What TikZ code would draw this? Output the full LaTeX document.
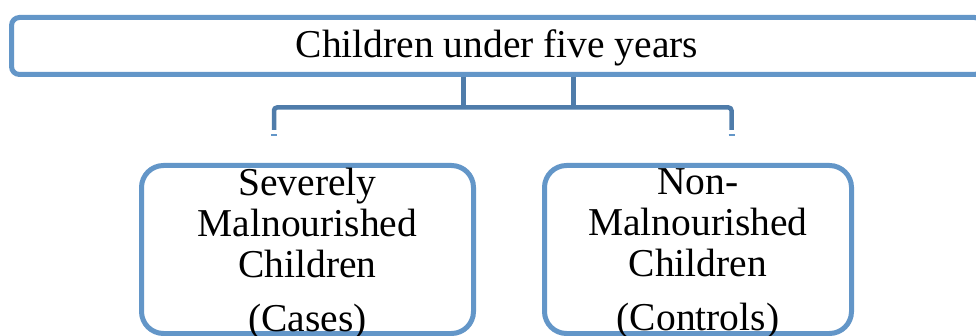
\documentclass[tikz,border=0pt]{standalone}
\usepackage{fontspec}
\setmainfont{Liberation Serif}
\usetikzlibrary{positioning, calc}
\definecolor{boxblue}{RGB}{99,150,200}
\definecolor{linkblue}{RGB}{79,124,170}

\begin{document}
\begin{tikzpicture}[x=1pt, y=-1pt,
    box/.style={draw=boxblue, line width=5pt, fill=white, inner sep=0pt},
    link/.style={draw=linkblue, line width=4.5pt, rounded corners=3pt},
    tick/.style={draw=boxblue, line width=2.5pt},
    boxtext/.style={align=center, inner sep=0pt, font=\fontsize{39.5}{41}\selectfont}]
    \useasboundingbox (0,0) rectangle (976,336);

    % Top box
    \node[box, boxtext, rounded corners=8pt, minimum width=971pt, minimum height=57pt,
          text height=31pt, text depth=8pt] (children) at (497,46) {Children under five years};

    % Group boxes
    \node[box, rounded corners=22pt, minimum width=332pt, minimum height=168pt] (cases) at (307.5,249.5) {};
    \node[box, rounded corners=22pt, minimum width=307pt, minimum height=168pt] (controls) at (698,249.5) {};
    \node[boxtext, anchor=north] (casestext) at (307.5,168) {Severely\\Malnourished\\Children\\[13pt](Cases)};
    \node[boxtext, anchor=north] (controlstext) at (698,168) {Non-\\Malnourished\\Children\\[13pt](Controls)};

    % Connectors
    \coordinate (lstem) at (463.5,107.5);
    \coordinate (rstem) at (573.5,107.5);
    \coordinate (lfoot) at (274,130);
    \coordinate (rfoot) at (731.5,130);
    \draw[link] (children.south -| lstem) -- (lstem);
    \draw[link] (children.south -| rstem) -- (rstem);
    \draw[link] (lfoot) |- (lstem) -- (rstem) -| (rfoot);
    \draw[tick] ($(lfoot)+(-3,5)$) -- ++(6,0);
    \draw[tick] ($(rfoot)+(-3,5)$) -- ++(6,0);
\end{tikzpicture}
\end{document}
